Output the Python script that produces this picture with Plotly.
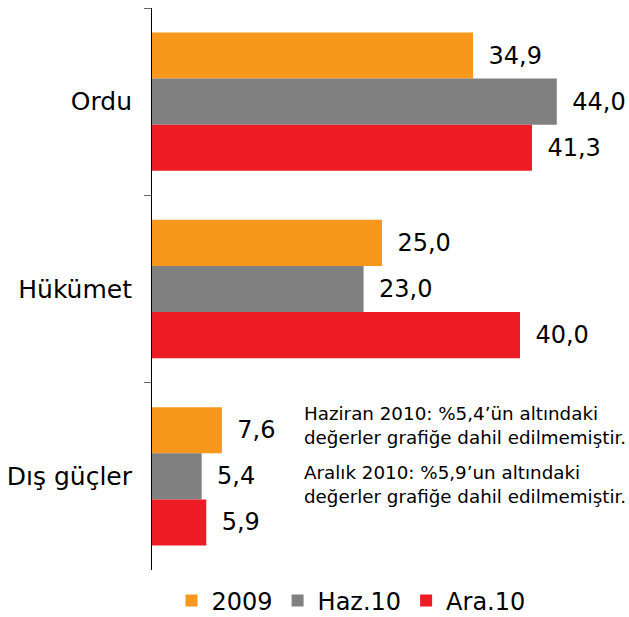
import plotly.graph_objects as go

categories = ["Ordu", "Hükümet", "Dış güçler"]
series_names = ["2009", "Haz.10", "Ara.10"]
values_2009 = [34.9, 25.0, 7.6]
values_haz10 = [44.0, 23.0, 5.4]
values_ara10 = [41.3, 40.0, 5.9]
colors = ["#F7981D", "#808080", "#ED1C24"]
note_lines = [
    "Haziran 2010: %5,4’ün altındaki",
    "değerler grafiğe dahil edilmemiştir.",
    "Aralık 2010: %5,9’un altındaki",
    "değerler grafiğe dahil edilmemiştir.",
]

FONT = "Verdana, DejaVu Sans, sans-serif"

def fmt(v):
    return " \u2009" + f"{v:.1f}".replace(".", ",")

fig = go.Figure()
for name, vals, col in zip(series_names, [values_2009, values_haz10, values_ara10], colors):
    fig.add_trace(go.Bar(
        y=categories, x=vals, name=name, orientation="h",
        marker=dict(color=col, line=dict(width=0)),
        text=[fmt(v) for v in vals], textposition="outside",
        textfont=dict(size=24, color="#000000", family=FONT),
        cliponaxis=False, hoverinfo="skip",
    ))

W, H = 629, 617
L, R, T = 152, 17, 8
plot_bottom = 570
B = H - plot_bottom
plot_h = plot_bottom - T
plot_w = W - L - R

def py(pix):
    return (plot_bottom - pix) / plot_h

def px(pix):
    return (pix - L) / plot_w

note_y = [413, 437, 472, 496]
for txt, yp in zip(note_lines, note_y):
    fig.add_annotation(
        text=txt, xref="paper", yref="paper",
        x=px(302), y=py(yp),
        xanchor="left", yanchor="middle", showarrow=False,
        font=dict(size=18.3, color="#000000", family=FONT),
    )

fig.update_layout(
    width=W, height=H,
    margin=dict(l=L, r=R, t=T, b=B, pad=0, autoexpand=False),
    paper_bgcolor="white", plot_bgcolor="white",
    barmode="group", bargap=0.262, bargroupgap=0,
    font=dict(family=FONT, size=24, color="#000000"),
    showlegend=True,
    legend=dict(
        orientation="h", x=px(351), xanchor="center",
        y=py(601), yanchor="middle",
        font=dict(size=24, family=FONT, color="#000000"),
        itemwidth=30, traceorder="normal",
    ),
    xaxis=dict(range=[0, 50], visible=False, showgrid=False, zeroline=False),
    yaxis=dict(
        autorange="reversed", showline=True, linecolor="#000000", linewidth=1,
        ticks="outside", tickson="boundaries", ticklen=7, tickcolor="#666666",
        tickwidth=1, showgrid=False, zeroline=False,
        tickfont=dict(size=25, family=FONT, color="#000000"),
        ticklabelstandoff=14,
    ),
)

post = ("document.body.style.margin='0';"
        "document.body.style.overflow='hidden';"
        "document.documentElement.style.overflow='hidden';")
fig.write_html("out.html", post_script=post,
               config={"displayModeBar": False, "staticPlot": True})
